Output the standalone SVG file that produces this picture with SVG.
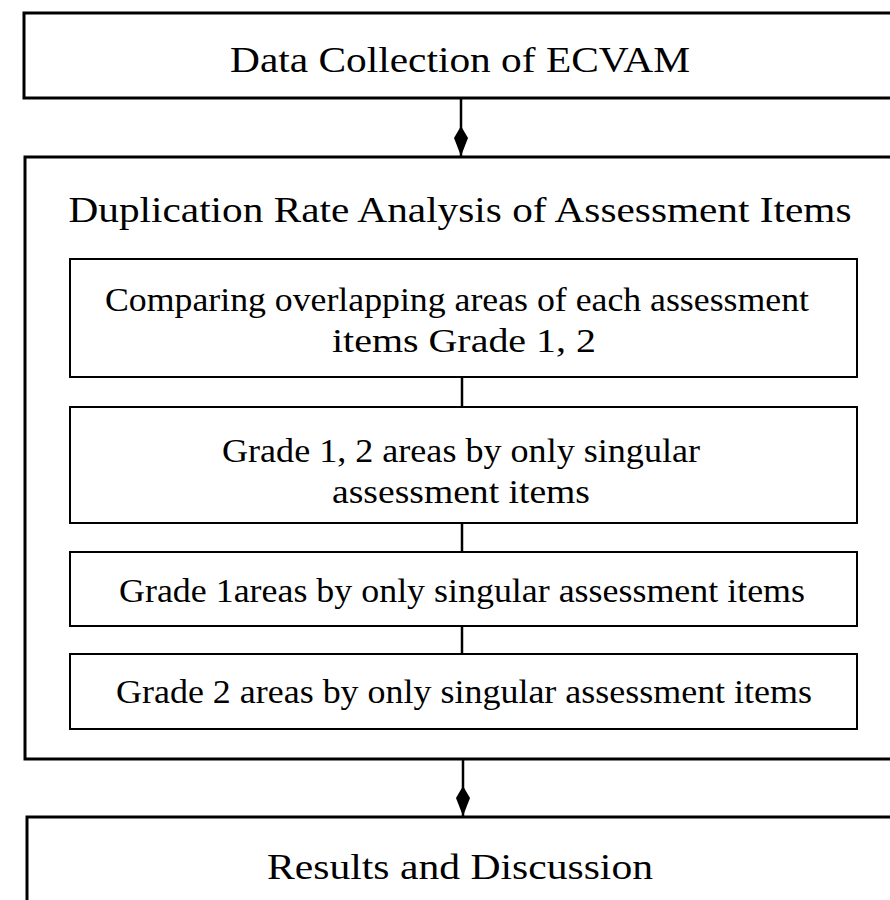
<svg xmlns="http://www.w3.org/2000/svg" width="890" height="900" viewBox="0 0 890 900">
<defs>
<style>
.outer{fill:#fff;stroke:#000;stroke-width:3}
.inner{fill:#fff;stroke:#000;stroke-width:2}
.conn{stroke:#000;stroke-width:2.5;fill:none}
text{font-family:"Liberation Serif","Times New Roman",serif;fill:#000;text-anchor:middle}
.h{font-size:36px}
.t{font-size:34px}
</style>
<marker id="ah" viewBox="0 0 30 16" refX="30" refY="8" markerWidth="30" markerHeight="16" markerUnits="userSpaceOnUse" orient="auto">
<path d="M0,8 L12,1 L30,8 L12,15 Z" fill="#000"/>
</marker>
</defs>
<rect width="890" height="900" fill="#fff"/>
<g id="n1">
<rect class="outer" x="24" y="13" width="880" height="85"/>
<text class="h" x="460" y="72" textLength="460" lengthAdjust="spacingAndGlyphs">Data Collection of ECVAM</text>
</g>
<g id="n2">
<rect class="outer" x="25" y="157" width="880" height="602"/>
<text class="h" x="460" y="222" textLength="783" lengthAdjust="spacingAndGlyphs">Duplication Rate Analysis of Assessment Items</text>
</g>
<g id="n3">
<rect class="inner" x="70" y="259" width="787" height="118"/>
<text class="t" x="457" y="311" textLength="704" lengthAdjust="spacingAndGlyphs">Comparing overlapping areas of each assessment</text>
<text class="t" x="464" y="352" textLength="264" lengthAdjust="spacingAndGlyphs">items Grade 1, 2</text>
</g>
<g id="n4">
<rect class="inner" x="70" y="407" width="787" height="116"/>
<text class="t" x="461" y="462" textLength="478" lengthAdjust="spacingAndGlyphs">Grade 1, 2 areas by only singular</text>
<text class="t" x="461" y="503" textLength="258" lengthAdjust="spacingAndGlyphs">assessment items</text>
</g>
<g id="n5">
<rect class="inner" x="70" y="552" width="787" height="74"/>
<text class="t" x="462" y="602" textLength="686" lengthAdjust="spacingAndGlyphs">Grade 1areas by only singular assessment items</text>
</g>
<g id="n6">
<rect class="inner" x="70" y="654" width="787" height="75"/>
<text class="t" x="464" y="703" textLength="696" lengthAdjust="spacingAndGlyphs">Grade 2 areas by only singular assessment items</text>
</g>
<g id="n7">
<rect class="outer" x="27" y="817" width="880" height="100"/>
<text class="h" x="460" y="879" textLength="386" lengthAdjust="spacingAndGlyphs">Results and Discussion</text>
</g>
<g id="connectors">
<line class="conn" x1="461" y1="99" x2="461" y2="156" marker-end="url(#ah)"/>
<line class="conn" x1="462" y1="377" x2="462" y2="407"/>
<line class="conn" x1="462" y1="523" x2="462" y2="552"/>
<line class="conn" x1="462" y1="626" x2="462" y2="654"/>
<line class="conn" x1="463" y1="760" x2="463" y2="816" marker-end="url(#ah)"/>
</g>
</svg>
